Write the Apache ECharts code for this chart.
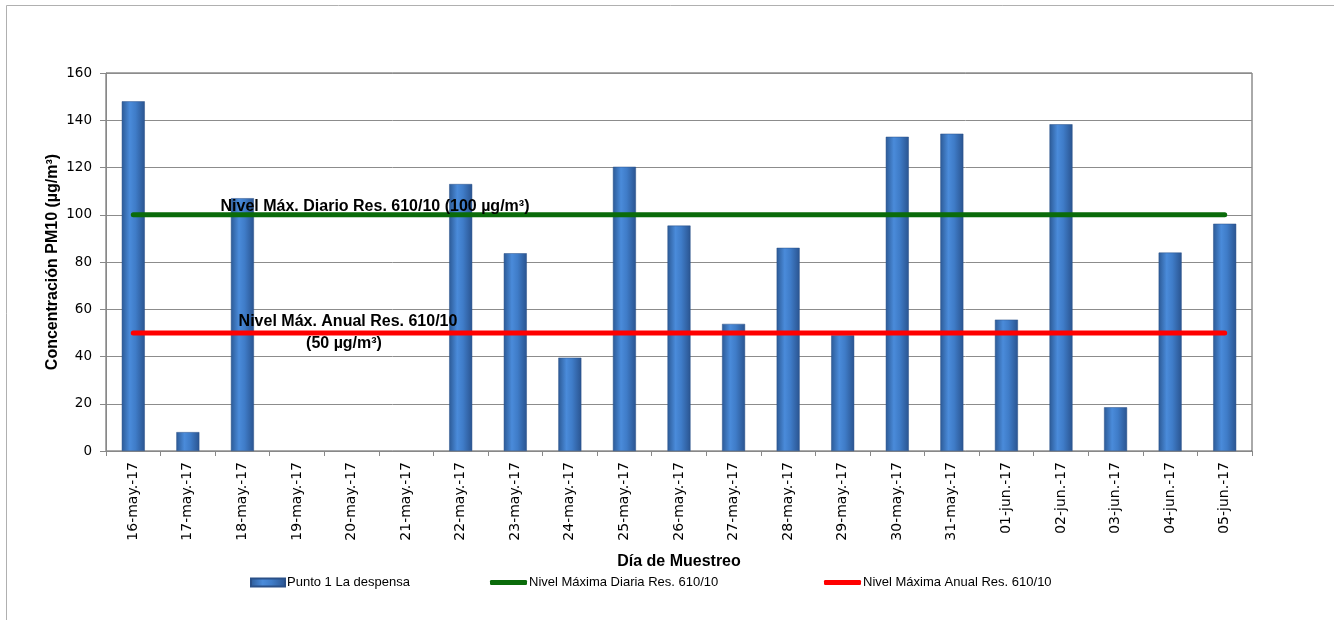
<!DOCTYPE html>
<html>
<head>
<meta charset="utf-8">
<script src="https://cdn.jsdelivr.net/npm/echarts@6/dist/echarts.min.js"></script>
<style>html,body{margin:0;padding:0;background:#fff}#c{width:1334px;height:620px}</style>
</head>
<body>
<div id="c"></div>
<script>
var categories = ['16-may.-17','17-may.-17','18-may.-17','19-may.-17','20-may.-17','21-may.-17','22-may.-17','23-may.-17','24-may.-17','25-may.-17','26-may.-17','27-may.-17','28-may.-17','29-may.-17','30-may.-17','31-may.-17','01-jun.-17','02-jun.-17','03-jun.-17','04-jun.-17','05-jun.-17'];
var punto1 = [148, 8, 107, null, null, null, 113, 83.7, 39.5, 120.3, 95.4, 53.8, 86, 49, 133, 134.3, 55.6, 138.3, 18.5, 84, 96.2];
var diarioLimit = 100;
var anualLimit = 50;
var yTicks = {min: 0, max: 160, interval: 20};
var seriesNames = ['Punto 1 La despensa', 'Nivel Máxima Diaria Res. 610/10', 'Nivel Máxima Anual Res. 610/10'];
var annotations = ['Nivel Máx. Diario Res. 610/10 (100 µg/m³)', 'Nivel Máx. Anual Res. 610/10', '(50 µg/m³)'];

var diario = categories.map(function(){ return diarioLimit; });
var anual = categories.map(function(){ return anualLimit; });

var chart = echarts.init(document.getElementById('c'));
var barGrad = new echarts.graphic.LinearGradient(0, 0, 1, 0, [
  {offset: 0, color: '#2C5A96'},
  {offset: 0.35, color: '#4A8BDA'},
  {offset: 0.6, color: '#3F7CC8'},
  {offset: 1, color: '#2A5490'}
]);
var legendText = {fontFamily: 'Liberation Sans', fontSize: 13, color: '#000', padding: [0, 0, 0, -3]};
chart.setOption({
  animation: false,
  backgroundColor: '#fff',
  grid: {left: 106, right: 82, top: 73, bottom: 169, show: true, borderColor: '#555', borderWidth: 1, backgroundColor: 'transparent'},
  xAxis: {
    type: 'category',
    data: categories,
    boundaryGap: true,
    name: 'Día de Muestreo',
    nameLocation: 'middle',
    nameGap: 103,
    nameMoveOverlap: false,
    nameTextStyle: {fontFamily: 'Liberation Sans', fontWeight: 'bold', fontSize: 16, color: '#000'},
    axisLine: {lineStyle: {color: '#888', width: 1}},
    axisTick: {show: true, length: 5, lineStyle: {color: '#888'}, alignWithLabel: false},
    axisLabel: {rotate: 90, margin: 11, fontFamily: 'DejaVu Sans', fontSize: 14, color: '#000', interval: 0},
    splitLine: {show: false}
  },
  yAxis: {
    type: 'value',
    min: yTicks.min, max: yTicks.max, interval: yTicks.interval,
    name: 'Concentración PM10 (µg/m³)',
    nameLocation: 'middle',
    nameGap: 45,
    nameMoveOverlap: false,
    nameTextStyle: {fontFamily: 'Liberation Sans', fontWeight: 'bold', fontSize: 16, color: '#000'},
    axisLine: {show: true, lineStyle: {color: '#888'}},
    axisTick: {show: true, length: 6, lineStyle: {color: '#888'}},
    axisLabel: {margin: 14, fontFamily: 'DejaVu Sans', fontSize: 13.5, color: '#000'},
    splitLine: {show: true, lineStyle: {color: '#8c8c8c', width: 1}}
  },
  legend: [
    {data: [{name: seriesNames[0], icon: 'rect'}], left: 245, top: 571, itemWidth: 34, itemHeight: 8, textStyle: legendText},
    {data: [{name: seriesNames[1], icon: 'roundRect'}], left: 485, top: 571, itemWidth: 37, itemHeight: 5, textStyle: legendText},
    {data: [{name: seriesNames[2], icon: 'roundRect'}], left: 819, top: 571, itemWidth: 37, itemHeight: 5, textStyle: legendText}
  ],
  series: [
    {
      name: seriesNames[0], type: 'bar', data: punto1, barWidth: 23, z: 2,
      itemStyle: {color: barGrad, borderColor: '#2A5088', borderWidth: 0.5}
    },
    {
      name: seriesNames[1], type: 'line', data: diario, symbol: 'none', z: 3,
      lineStyle: {color: '#0A6B0A', width: 5, cap: 'round'}, itemStyle: {color: '#0A6B0A'}
    },
    {
      name: seriesNames[2], type: 'line', data: anual, symbol: 'none', z: 3,
      lineStyle: {color: '#FF0000', width: 5, cap: 'round'}, itemStyle: {color: '#FF0000'}
    }
  ],
  graphic: [
    {type: 'rect', shape: {x: 6.5, y: 5.5, width: 1400, height: 700}, style: {fill: 'none', stroke: '#b0b0b0', lineWidth: 1}, silent: true, z: -1},
    {type: 'text', x: 375, y: 207, z: 10, style: {text: annotations[0], font: 'bold 16px "Liberation Sans"', fill: '#000', align: 'center', verticalAlign: 'middle'}},
    {type: 'text', x: 348, y: 322, z: 10, style: {text: annotations[1], font: 'bold 16px "Liberation Sans"', fill: '#000', align: 'center', verticalAlign: 'middle'}},
    {type: 'text', x: 344, y: 344, z: 10, style: {text: annotations[2], font: 'bold 16px "Liberation Sans"', fill: '#000', align: 'center', verticalAlign: 'middle'}}
  ]
});
</script>
</body>
</html>
